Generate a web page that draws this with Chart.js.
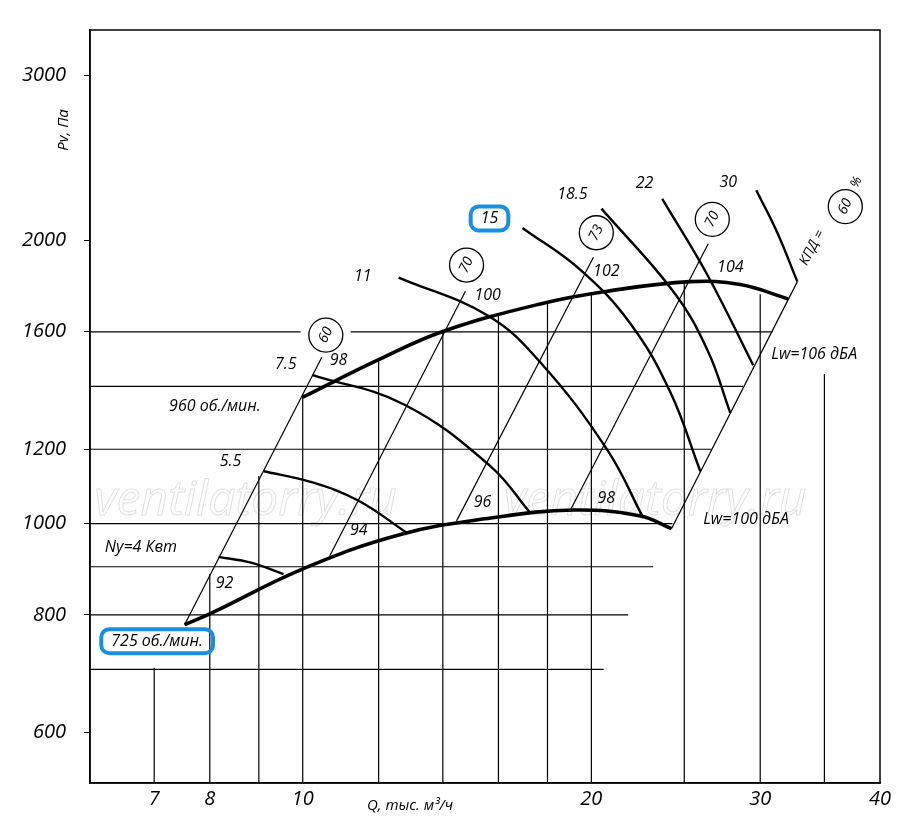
<!DOCTYPE html>
<html>
<head>
<meta charset="utf-8">
<script src="https://cdn.jsdelivr.net/npm/chart.js@4/dist/chart.umd.min.js"></script>
<style>
  body { margin: 0; background: #fff; }
  #wrap { width: 900px; height: 831px; }
</style>
</head>
<body>
<div id="wrap"><canvas id="chart"></canvas></div>
<script>
// axis ticks
const xTicks = [7, 8, 10, 20, 30, 40];
const yTicks = [600, 800, 1000, 1200, 1600, 2000, 3000];

// partial grid lines (Pa levels and where they end, Q levels and where they start)
const hLevels = [700, 800, 900, 1000, 1200, 1400, 1600, 1600];
const hFrom   = [6, 6, 6, 6, 6, 6, 6, 11.22];
const hTo     = [20.6, 21.85, 23.2, 24.3, 26.7, 28.8, 9.95, 30.9];
const vLevels = [7, 8, 9, 10, 12, 14, 16, 18, 20, 25, 30, 35];
const vTop    = [703, 884, 1124, 1373, 1496, 1602, 1673, 1721, 1754, 1805, 1754, 1443];

// operating limits, 725 and 960 rpm
const q725 = [7.53, 8.02, 10.02, 12.65, 15.70, 19.16, 22.5, 24.24];
const p725 = [781, 803, 896, 974, 1014, 1034, 1019, 988];
const q960 = [10, 12.03, 14.02, 17.69, 20.78, 25.36, 28.6, 32.1];
const p960 = [1363, 1496, 1602, 1713, 1767, 1809, 1796, 1734];

// power curves, kW
const qN4  = [8.17, 8.83, 9.55];          const pN4  = [922, 909, 884];
const qN55 = [9.11, 10.19, 11.41, 12.86];  const pN55 = [1137, 1108, 1059, 977];
const qN75 = [10.24, 12.74, 15.70, 17.28]; const pN75 = [1439, 1340, 1151, 1026];
const qN11 = [12.59, 15.59, 17.69, 20.78, 22.66]; const pN11 = [1827, 1665, 1485, 1198, 1014];
const qN15 = [16.95, 19.48, 21.96, 24.16, 25.98]; const pN15 = [2063, 1862, 1633, 1382, 1137];
const qN185 = [20.49, 24.34, 26.42, 27.92]; const pN185 = [2163, 1767, 1531, 1312];
const qN22 = [23.71, 26.42, 29.50];        const pN22 = [2215, 1840, 1474];
const qN30 = [29.72, 31.26, 32.8];         const pN30 = [2263, 2039, 1809];

// efficiency rays: [q start, q end], [p start, p end]
const rayQ = [[7.53, 10.47], [10.67, 14.78], [14.47, 20.1], [19.02, 26.48], [24.24, 32.8]];
const rayP = [[781, 1503], [924, 1767], [1007, 1920], [1034, 1985], [988, 1809]];
// efficiency circles
const effVal = ["60", "70", "73", "70", "60"];
const effQ = [10.57, 14.82, 20.24, 26.74, 36.8];
const effP = [1587, 1884, 2039, 2107, 2174];

// text labels
const labText = ["Ny=4 Квт", "5.5", "7.5", "11", "15", "18.5", "22", "30",
  "92", "94", "96", "98", "98", "100", "102", "104",
  "Lw=106 дБА", "Lw=100 дБА", "960 об./мин.", "725 об./мин.", "%"];
const labQ = [6.78, 8.41, 9.60, 11.55, 15.66, 19.11, 22.72, 27.79,
  8.29, 11.44, 15.40, 20.73, 10.90, 15.59, 20.73, 27.92,
  34.15, 29.0, 8.10, 7.05, 37.8];
const labP = [944, 1165, 1478, 1831, 2112, 2237, 2302, 2307,
  863, 983, 1054, 1064, 1492, 1750, 1853, 1875,
  1513, 1010, 1334, 750, 2307];
const boxed = ["15", "725 об./мин."];

function pts(xs, ys) { return xs.map((x, i) => ({ x: x, y: ys[i] })); }

const datasets = [];
function addLine(data, width, tension) {
  datasets.push({ data: data, borderColor: "#000", borderWidth: width, pointRadius: 0,
    tension: tension || 0, fill: false });
}
hLevels.forEach((p, i) => addLine([{ x: hFrom[i], y: p }, { x: hTo[i], y: p }], 1.2));
vLevels.forEach((q, i) => addLine([{ x: q, y: 530 }, { x: q, y: vTop[i] }], 1.2));
rayQ.forEach((r, i) => addLine(pts(r, rayP[i]), 1.2));
[[qN4, pN4], [qN55, pN55], [qN75, pN75], [qN11, pN11], [qN15, pN15],
 [qN185, pN185], [qN22, pN22], [qN30, pN30]].forEach(c => addLine(pts(c[0], c[1]), 2.4, 0.4));
addLine(pts(q725, p725), 3.6, 0.4);
addLine(pts(q960, p960), 3.6, 0.4);

const FONT = "'Open Sans', sans-serif";

const labelsPlugin = {
  id: "labels",
  afterDraw(ch) {
    const c = ch.ctx, xs = ch.scales.x, ys = ch.scales.y;
    c.save();
    // watermark
    c.font = "italic 48px " + FONT;
    c.textAlign = "center"; c.textBaseline = "middle";
    c.strokeStyle = "rgba(0,0,0,0.13)"; c.lineWidth = 1;
    [8.72, 23.32].forEach(q => c.strokeText("ventilatorry.ru", xs.getPixelForValue(q), ys.getPixelForValue(1056)));

    c.fillStyle = "#000";
    c.font = "italic 16px " + FONT;
    labText.forEach((t, i) => {
      const x = xs.getPixelForValue(labQ[i]), y = ys.getPixelForValue(labP[i]);
      if (t === "%") {
        c.save(); c.translate(x, y); c.rotate(-Math.PI / 2.8); c.font = "italic 13px " + FONT;
        c.fillText(t, 0, 0); c.restore(); return;
      }
      c.fillText(t, x, y);
      if (boxed.includes(t)) {
        const w = c.measureText(t).width + 20, h = 24;
        c.save(); c.strokeStyle = "#1a8fe0"; c.lineWidth = 4;
        c.beginPath(); c.roundRect(x - w / 2, y - h / 2, w, h, 8); c.stroke(); c.restore();
      }
    });
    // KPD
    c.save();
    c.translate(xs.getPixelForValue(33.98), ys.getPixelForValue(1966));
    c.rotate(-Math.PI / 2.9); c.font = "italic 14px " + FONT; c.fillText("КПД =", 0, 0);
    c.restore();
    // efficiency circles
    effVal.forEach((t, i) => {
      const x = xs.getPixelForValue(effQ[i]), y = ys.getPixelForValue(effP[i]);
      c.beginPath(); c.arc(x, y, 17, 0, Math.PI * 2);
      c.fillStyle = "#fff"; c.fill(); c.lineWidth = 1.3; c.strokeStyle = "#000"; c.stroke();
      c.save(); c.translate(x, y); c.rotate(-Math.PI / 2.8);
      c.fillStyle = "#000"; c.font = "italic 14px " + FONT; c.fillText(t, 0, 0);
      c.restore();
    });
    // titles
    c.fillStyle = "#000";
    c.font = "italic 15px " + FONT;
    c.fillText("Q, тыс. м³/ч", 410, 806);
    c.save(); c.translate(64, 130); c.rotate(-Math.PI / 2); c.fillText("Pv, Па", 0, 0); c.restore();
    // frame
    const a = ch.chartArea;
    c.strokeStyle = "#000"; c.lineWidth = 1.5;
    c.strokeRect(a.left, a.top, a.right - a.left, a.bottom - a.top);
    c.restore();
  }
};

new Chart(document.getElementById("chart"), {
  type: "line",
  data: { datasets: datasets },
  options: {
    responsive: true, maintainAspectRatio: false, animation: false,
    layout: { padding: { top: -14, right: 20, left: 0, bottom: 0 } },
    plugins: { legend: { display: false }, tooltip: { enabled: false } },
    scales: {
      x: {
        type: "logarithmic", min: 6, max: 40,
        afterBuildTicks: s => { s.ticks = xTicks.map(v => ({ value: v })); },
        afterFit: s => { s.height = 48; },
        grid: { drawOnChartArea: false, drawTicks: false },
        border: { color: "#000", width: 1.5 },
        ticks: { color: "#000", font: { family: FONT, size: 20, style: "italic" }, padding: 4,
          maxRotation: 0, callback: v => String(v) }
      },
      y: {
        type: "logarithmic", min: 530, max: 3350,
        afterBuildTicks: s => { s.ticks = yTicks.map(v => ({ value: v })); },
        afterFit: s => { s.width = 90; },
        grid: { drawOnChartArea: false, tickLength: 6, color: "#000" },
        border: { color: "#000", width: 1.5 },
        ticks: { color: "#000", font: { family: FONT, size: 20, style: "italic" }, padding: 18,
          callback: v => String(v) }
      }
    }
  },
  plugins: [labelsPlugin]
});
</script>
</body>
</html>
